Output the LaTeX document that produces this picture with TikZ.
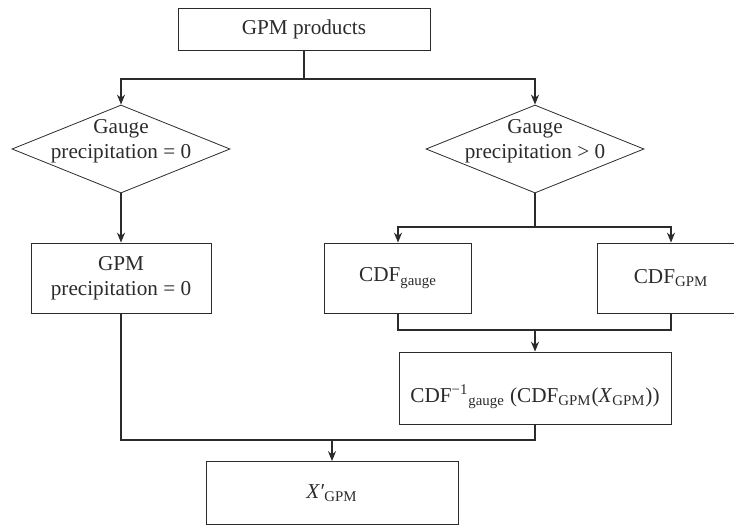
\documentclass[tikz,border=0pt]{standalone}
\usepackage{fontspec}
\setmainfont{Liberation Serif}
\usetikzlibrary{shapes.geometric,arrows.meta}
\definecolor{ink}{HTML}{2B2B2B}
\tikzset{
  procbox/.style={draw=ink, text=ink, rectangle, minimum height=35pt, inner sep=2pt, align=center},
  decbox/.style={draw=ink, diamond, minimum width=109pt, minimum height=44pt, inner sep=0pt},
  flow/.style={draw=ink, line width=0.6pt},
  arr/.style={flow, -{Stealth[length=5pt,width=4pt]}},
  every node/.append style={font=\fontsize{10.6pt}{12.5pt}\selectfont},
}
\newcommand{\sbs}[1]{\textsubscript{#1}}
\begin{document}
\begin{tikzpicture}[x=0.5pt, y=-0.5pt]
\useasboundingbox (0,0) rectangle (734,526);

% boxes and decisions
\node [procbox, minimum width=126pt, minimum height=21pt] (top) at (304,29) {GPM products};
\node [decbox] (d1) at (121,149) {};
\node [text=ink, align=center] (d1t) at (121,141) {Gauge\\precipitation = 0};
\node [decbox] (d2) at (535,149) {};
\node [text=ink, align=center] (d2t) at (535,141) {Gauge\\precipitation {\textgreater} 0};

\node [procbox, minimum width=90pt] (b1) at (121,278) {GPM\\precipitation = 0};
\node [procbox, minimum width=73.5pt] (cg) at (398,278) {CDF\sbs{gauge}};
\node [procbox, minimum width=73.5pt] (cp) at (671,278) {CDF\sbs{GPM}};

\node [procbox, minimum width=136pt, minimum height=36pt] (inv) at (535,388) {};
\node [text=ink] (invt) at (535,397) {CDF\textsuperscript{−1}\sbs{gauge} (CDF\sbs{GPM}(\textit{X}\sbs{GPM}))};
\node [procbox, minimum width=126pt, minimum height=31.5pt] (out) at (332,493) {\textit{X′}\sbs{GPM}};

% junctions
\coordinate (j1) at (304,79);
\coordinate (j2) at (535,227);
\coordinate (j3) at (535,330);
\coordinate (j4) at (332,440);

% connectors
\draw [flow] (top.south) -- (j1);
\draw [arr] (j1) -| (d1.north);
\draw [arr] (j1) -| (d2.north);
\draw [arr] (d1.south) -- (b1.north);
\draw [flow] (d2.south) -- (j2);
\draw [arr] (j2) -| (cg.north);
\draw [arr] (j2) -| (cp.north);
\draw [flow] (cg.south) |- (j3) -| (cp.south);
\draw [arr] (j3) -- (inv.north);
\draw [flow] (b1.south) |- (j4) -| (inv.south);
\draw [arr] (j4) -- (out.north);
\end{tikzpicture}
\end{document}
